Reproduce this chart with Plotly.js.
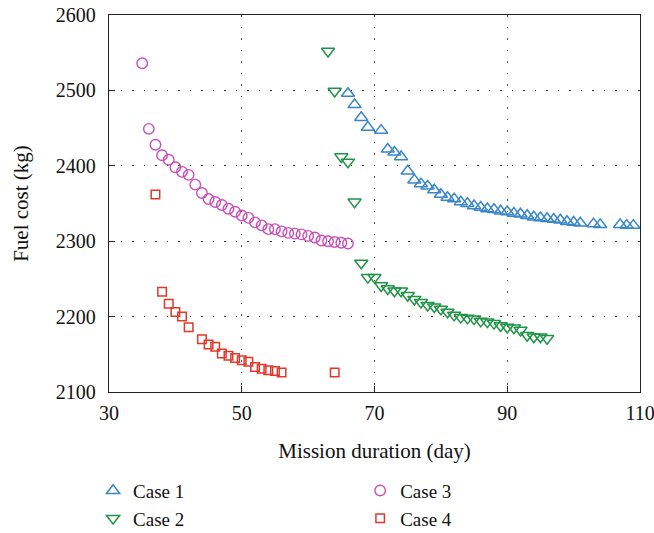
<!DOCTYPE html>
<html>
<head>
<meta charset="utf-8">
<script src="https://cdn.plot.ly/plotly-3.0.1.min.js"></script>
<style>html,body{margin:0;padding:0;background:#fff;}#chart{width:654px;height:533px;}</style>
</head>
<body>
<div id="chart"></div>
<script>
// Case 1
const case1X = [66,67,68,69,71,72,73,74,75,76,77,78,79,80,81,82,83,84,85,86,87,88,89,90,91,92,93,94,95,96,97,98,99,100,101,103,104,107,108,109];
const case1Y = [2496,2481,2464,2451,2447,2422,2418,2412,2393,2381,2376,2373,2368,2362,2358,2356,2352,2350,2347,2345,2343,2342,2340,2339,2337,2336,2334,2332,2331,2330,2329,2328,2326,2325,2324,2323,2322,2322,2321,2321];
// Case 2
const case2X = [63,64,65,66,67,68,69,70,71,72,73,74,75,76,77,78,79,80,81,82,83,84,85,86,87,88,89,90,91,92,93,94,95,96];
const case2Y = [2552,2499,2412,2405,2352,2271,2252,2252,2241,2237,2234,2234,2228,2223,2219,2215,2213,2210,2206,2202,2199,2198,2197,2194,2193,2191,2188,2186,2185,2182,2175,2173,2173,2171];
// Case 3
const case3X = [35,36,37,38,39,40,41,42,43,44,45,46,47,48,49,50,51,52,53,54,55,56,57,58,59,60,61,62,63,64,65,66];
const case3Y = [2536,2449,2428,2414,2408,2398,2392,2388,2375,2364,2356,2352,2348,2343,2339,2334,2331,2325,2321,2316,2316,2313,2311,2310,2309,2307,2305,2301,2300,2299,2298,2297];
// Case 4
const case4X = [37,38,39,40,41,42,44,45,46,47,48,49,50,51,52,53,54,55,56,64];
const case4Y = [2362,2233,2217,2206,2200,2186,2170,2163,2160,2151,2148,2145,2142,2140,2133,2131,2129,2128,2126,2126];

const xTicks = [30,50,70,90,110];
const yTicks = [2100,2200,2300,2400,2500,2600];
const names = ['Case 1','Case 2','Case 3','Case 4'];

const FONT = "'Liberation Serif'";
const FS_TICK = 20;
const FS_TITLE = 21;
const FS_LEG = 19;

const traces = [
  {x: case1X, y: case1Y, name: names[0], type: 'scatter', mode: 'markers', legend: 'legend',
   marker: {symbol: 'triangle-up-open', size: 11.5, color: '#3a86c8', line: {width: 1.5}}},
  {x: case2X, y: case2Y, name: names[1], type: 'scatter', mode: 'markers', legend: 'legend',
   marker: {symbol: 'triangle-down-open', size: 11.5, color: '#1f9447', line: {width: 1.5}}},
  {x: case3X, y: case3Y, name: names[2], type: 'scatter', mode: 'markers', legend: 'legend2',
   marker: {symbol: 'circle-open', size: 10.5, color: '#c94fb8', line: {width: 1.4}}},
  {x: case4X, y: case4Y, name: names[3], type: 'scatter', mode: 'markers', legend: 'legend2',
   marker: {symbol: 'square-open', size: 8.5, color: '#e0382a', line: {width: 1.5}}}
];

const legendBase = {
  orientation: 'v', xanchor: 'left', yanchor: 'top', xref: 'paper', yref: 'container',
  font: {family: FONT, size: FS_LEG, color: '#111'},
  bgcolor: 'rgba(0,0,0,0)', borderwidth: 0, itemwidth: 30, tracegroupgap: 0
};

const layout = {
  width: 654, height: 533,
  margin: {l: 108.5, r: 14, t: 15, b: 141, pad: 0},
  paper_bgcolor: '#fff', plot_bgcolor: '#fff',
  font: {family: FONT, size: FS_TICK, color: '#111'},
  showlegend: true,
  legend: Object.assign({}, legendBase, {x: -0.03, y: 0.115}),
  legend2: Object.assign({}, legendBase, {x: 0.473, y: 0.115}),
  xaxis: {
    range: [30, 110], tickvals: xTicks, ticktext: xTicks.map(String),
    ticks: 'inside', ticklen: 6, tickwidth: 1.3, tickcolor: '#222',
    showline: true, linecolor: '#222', linewidth: 1.3, mirror: true,
    showgrid: true, gridcolor: '#555', gridwidth: 1, griddash: '1.5px,10px',
    zeroline: false, ticklabelstandoff: 3, automargin: false, ticklabeloverflow: 'allow',
    tickfont: {family: FONT, size: FS_TICK},
    title: {text: 'Mission duration (day)', font: {family: FONT, size: FS_TITLE}, standoff: 20}
  },
  yaxis: {
    range: [2100, 2600], tickvals: yTicks, ticktext: yTicks.map(String),
    ticks: 'inside', ticklen: 6, tickwidth: 1.3, tickcolor: '#222',
    showline: true, linecolor: '#222', linewidth: 1.3, mirror: true,
    showgrid: true, gridcolor: '#333', gridwidth: 1, griddash: '1.5px,10px',
    zeroline: false, ticklabelstandoff: 8, automargin: false, ticklabeloverflow: 'allow',
    tickfont: {family: FONT, size: FS_TICK},
    title: {text: 'Fuel cost (kg)', font: {family: FONT, size: FS_TITLE}, standoff: 21}
  }
};

Plotly.newPlot('chart', traces, layout, {displayModeBar: false, staticPlot: true});
</script>
</body>
</html>
